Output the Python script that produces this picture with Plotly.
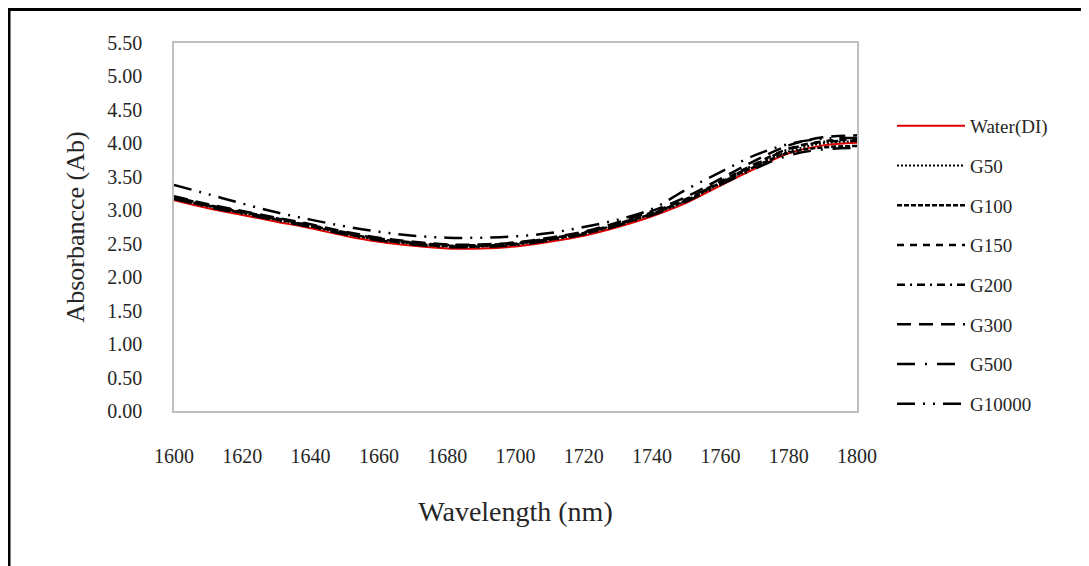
import plotly.graph_objects as go

wavelength = [1600, 1610, 1620, 1630, 1640, 1650, 1660, 1670, 1680, 1690, 1700,
              1710, 1720, 1730, 1740, 1750, 1760, 1770, 1780, 1790, 1800]

water = [3.15, 3.03, 2.93, 2.83, 2.73, 2.62, 2.53, 2.47, 2.43, 2.43, 2.46,
         2.53, 2.62, 2.75, 2.91, 3.11, 3.37, 3.62, 3.85, 3.97, 4.01]
g50 = [3.18, 3.06, 2.96, 2.86, 2.76, 2.65, 2.56, 2.50, 2.46, 2.46, 2.49,
       2.56, 2.65, 2.78, 2.94, 3.14, 3.40, 3.65, 3.88, 4.00, 4.03]
g100 = [3.19, 3.07, 2.97, 2.87, 2.77, 2.66, 2.57, 2.51, 2.47, 2.47, 2.50,
        2.57, 2.66, 2.79, 2.95, 3.15, 3.41, 3.65, 3.86, 3.94, 3.96]
g150 = [3.20, 3.08, 2.98, 2.88, 2.78, 2.67, 2.58, 2.52, 2.48, 2.48, 2.51,
        2.58, 2.67, 2.80, 2.97, 3.17, 3.43, 3.69, 3.92, 4.03, 4.06]
g200 = [3.18, 3.06, 2.96, 2.86, 2.76, 2.65, 2.56, 2.50, 2.46, 2.46, 2.49,
        2.56, 2.65, 2.78, 2.95, 3.16, 3.42, 3.68, 3.91, 4.02, 4.04]
g300 = [3.21, 3.09, 2.99, 2.89, 2.79, 2.68, 2.59, 2.53, 2.49, 2.49, 2.52,
        2.59, 2.68, 2.82, 2.99, 3.20, 3.47, 3.74, 3.97, 4.09, 4.12]
g500 = [3.17, 3.05, 2.95, 2.85, 2.75, 2.64, 2.55, 2.49, 2.45, 2.45, 2.48,
        2.55, 2.64, 2.77, 2.93, 3.13, 3.38, 3.62, 3.82, 3.91, 3.93]
g10000 = [3.38, 3.24, 3.10, 2.97, 2.86, 2.76, 2.68, 2.62, 2.59, 2.59, 2.61,
          2.66, 2.75, 2.86, 3.02, 3.31, 3.57, 3.82, 3.99, 4.07, 4.08]

series_names = ["Water(DI)", "G50", "G100", "G150", "G200", "G300", "G500", "G10000"]
series_values = [water, g50, g100, g150, g200, g300, g500, g10000]
series_colors = ["#e00000"] + ["#000000"] * 7
series_dash = ["solid", "2px,2px", "5px,2px", "7px,6px", "8px,5px,2px,5px",
               "14px,8px", "18px,10px,2px,10px", "18px,8px,2px,8px,2px,8px"]
series_width = [2, 2, 2.5, 2.5, 2.5, 2.5, 2.5, 2.5]

y_ticks = [0, 0.5, 1, 1.5, 2, 2.5, 3, 3.5, 4, 4.5, 5, 5.5]
y_ticktext = [f"{v:.2f}" for v in y_ticks]
x_ticks = list(range(1600, 1801, 20))

fig = go.Figure()
for i, (name, vals) in enumerate(zip(series_names, series_values)):
    fig.add_trace(go.Scatter(
        x=wavelength, y=vals, name=name, mode="lines",
        legendgroup=name,
        line=dict(color=series_colors[i], dash=series_dash[i],
                  width=series_width[i], shape="spline", smoothing=1.0),
    ))

font_family = "Liberation Serif, Times New Roman, serif"
text_color = "#262626"

# page body has an 8px margin; work in screen pixels and shift
OFF = 8
W, H = 1089, 566
L, R, T, B = 174 - OFF, 857 - OFF, 43 - OFF, 411 - OFF


def px_x(px):
    return (px - OFF - L) / (R - L)


def px_y(py):
    return (B - (py - OFF)) / (B - T)


fig.update_layout(
    width=W, height=H,
    margin=dict(l=L, r=W - R, t=T, b=H - B),
    paper_bgcolor="white", plot_bgcolor="white",
    font=dict(family=font_family, size=20, color=text_color),
    showlegend=True,
    legend=dict(
        x=px_x(892), y=px_y(107), xanchor="left", yanchor="top",
        font=dict(family=font_family, size=19, color=text_color),
        itemwidth=68, tracegroupgap=12, bgcolor="rgba(0,0,0,0)",
    ),
    xaxis=dict(
        range=[1600, 1800], tickvals=x_ticks, showgrid=False, zeroline=False,
        showline=True, linecolor="#bfbfbf", linewidth=1.5, mirror=True,
        ticks="", ticklabelstandoff=26,
        tickfont=dict(family=font_family, size=20, color=text_color),
        title=dict(text="Wavelength (nm)", standoff=36,
                   font=dict(family=font_family, size=28, color=text_color)),
    ),
    yaxis=dict(
        range=[0, 5.5], tickvals=y_ticks, ticktext=y_ticktext, showgrid=False,
        zeroline=False, showline=True, linecolor="#bfbfbf", linewidth=1.5,
        mirror=True, ticks="", ticklabelstandoff=26,
        tickfont=dict(family=font_family, size=20, color=text_color),
        title=dict(text="Absorbancce (Ab)", standoff=15,
                   font=dict(family=font_family, size=26, color=text_color)),
    ),
    shapes=[
        dict(type="line", xref="paper", yref="paper",
             x0=px_x(9), x1=px_x(9), y0=px_y(9.5), y1=px_y(600),
             line=dict(color="black", width=3)),
        dict(type="line", xref="paper", yref="paper",
             x0=px_x(7.5), x1=px_x(1120), y0=px_y(9.5), y1=px_y(9.5),
             line=dict(color="black", width=3)),
    ],
)

fig.write_html("out.html")
